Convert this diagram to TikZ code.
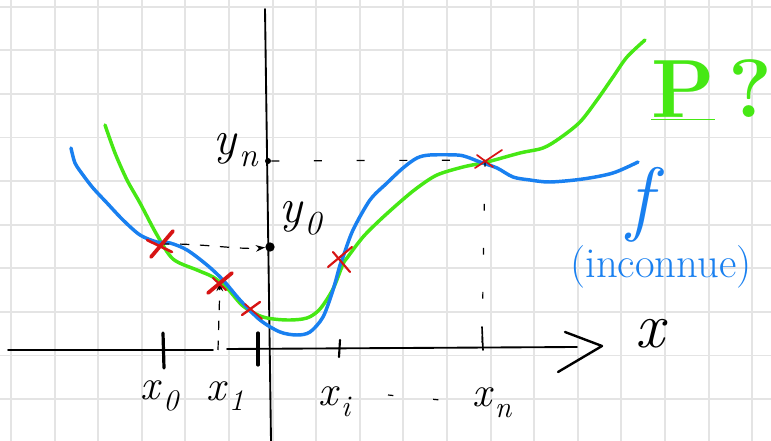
\documentclass[tikz,border=0pt]{standalone}
\usepackage{fontspec}
\usetikzlibrary{arrows.meta}
\definecolor{pgreen}{RGB}{70,232,20}
\definecolor{fblue}{RGB}{25,128,240}
\definecolor{xred}{RGB}{215,20,20}
\definecolor{gridc}{RGB}{228,228,228}
\newcommand{\lbl}[2]{\textit{#1}\kern0.03em\raisebox{-0.25em}{\scalebox{0.7}{\textit{#2}}}}
\begin{document}
\begin{tikzpicture}[x=0.75pt,y=-0.75pt,
  gridline/.style={draw=gridc,line width=1.4pt},
  axisline/.style={draw=black,line width=1.4pt,line cap=round},
  tickmark/.style={draw=black,line width=2.4pt,line cap=round},
  curveP/.style={draw=pgreen,line width=2.6pt,line cap=round,line join=round},
  curvef/.style={draw=fblue,line width=2.6pt,line cap=round,line join=round},
  crossbold/.style={draw=xred,line width=2.8pt,line cap=round},
  crossthin/.style={draw=xred,line width=1.3pt,line cap=round},
  guide/.style={draw=black,line width=0.9pt,dash pattern=on 7pt off 8pt},
  lab/.style={font=\fontsize{32}{34}\selectfont,inner sep=0pt},
  dotmark/.style={circle,fill=black,inner sep=0pt,minimum size=4.5pt},
]
\useasboundingbox (0,0) rectangle (771,441);
\fill[white] (0,0) rectangle (771,441);
\foreach \i in {0,...,17} \draw[gridline] ({11+43.6*\i},0) -- ({11+43.6*\i},441);
\foreach \j in {0,...,9} \draw[gridline] (0,{6.7+43.6*\j}) -- (771,{6.7+43.6*\j});

% axes
\draw[axisline] (8,350) -- (213,350);
\draw[axisline] (227,349) -- (577,347);
\draw[axisline,line width=1.8pt,line join=round] (565,332) -- (602,346) -- (558,372);
\draw[axisline] (265,9) -- (271,441);

% ticks
\draw[tickmark] (163,333) -- (164,368);
\draw[tickmark] (258,333) -- (258,365);
\draw[tickmark,line width=1.6pt] (340,340) -- (339,357);
\draw[tickmark,line width=1.2pt] (482,327) -- (483,350);

% interpolation points
\coordinate (X0) at (160,244);
\coordinate (X1) at (220,282);
\coordinate (X2) at (251,309);
\coordinate (Xi) at (341,262);
\coordinate (Xn) at (485,160);
\coordinate (T1) at (218,350);
\coordinate (Tn) at (482,347);
\node[dotmark] (Yn) at (268,161) {};
\node[dotmark,minimum size=7pt] (Y0) at (270,247) {};

% curves
\draw[curveP] plot[smooth,tension=0.5] coordinates {(105,125) (115,153) (127,180) (140,203) (157,235) (173,259) (197,270) (213,277) (227,288) (243,306) (263,317) (287,320) (307,318) (320,309) (333,289) (343,264) (347,258) (363,237) (380,220) (400,202) (417,188) (437,175) (463,167) (487,162) (520,153) (543,148) (560,138) (580,122) (597,100) (613,77) (627,57) (645,40)};
\draw[curvef] plot[smooth,tension=0.5] coordinates {(71,148) (75,163) (83,175) (93,188) (107,203) (123,220) (140,235) (157,242) (170,243) (187,250) (207,265) (223,280) (240,300) (260,320) (280,332) (297,335) (310,332) (323,317) (333,290) (340,265) (343,257) (353,230) (370,200) (387,183) (403,168) (417,158) (430,155) (457,155) (467,157) (480,162) (497,168) (513,177) (530,180) (550,182) (583,179) (613,173) (638,162)};

% guide lines
\draw[guide,-{Stealth[length=7pt,width=5pt]}] (X0) .. controls (200,243) and (240,250) .. (Y0);
\draw[guide,dash pattern=on 6pt off 26pt] (Yn) -- (Xn);
\draw[guide,dash pattern=on 5pt off 28pt] (Xn) -- (Tn);
\draw[guide,-{Stealth[length=7pt,width=5pt]}] (T1) -- (X1);

% crosses
\draw[crossbold] (151,257) -- (173,231);
\draw[crossbold,line width=2pt] (147,240) -- (172,252);
\draw[crossbold] (208,293) -- (232,273);
\draw[crossbold,line width=1.6pt] (213,278) -- (226,290);
\draw[crossthin,line width=1.8pt] (242,315) -- (260,302);
\draw[crossthin] (245,304) -- (262,319);
\draw[crossthin,line width=1.6pt] (328,267) -- (352,247);
\draw[crossthin,line width=1.6pt] (333,252) -- (350,272);
\draw[crossthin] (475,168) -- (502,150);
\draw[crossthin] (477,155) -- (493,167);

% labels
\node[lab] (lx0) at (160,396) {\lbl{x}{0}};
\node[lab] (lx1) at (225,396) {\lbl{x}{1}};
\node[lab] (lxi) at (335,402) {\lbl{x}{i}};
\node[lab] (lxn) at (492,403) {\lbl{x}{n}};
\node[lab,font=\fontsize{48}{48}\selectfont\itshape] (lx) at (650,334) {x};
\node[lab,font=\fontsize{36}{38}\selectfont] (lyn) at (236,150) {\lbl{y}{n}};
\node[lab,font=\fontsize{36}{38}\selectfont] (ly0) at (301,218) {\lbl{y}{0}};
\draw[guide,dash pattern=on 4pt off 30pt] (388,395) -- (lxn.west);

\node[inner sep=0pt,text=pgreen,font=\fontsize{62}{62}\selectfont\bfseries] (lP) at (712,90) {\underline{P}\,?};
\node[inner sep=0pt,text=fblue,font=\fontsize{62}{62}\selectfont\itshape] (lf) at (640,205) {f};
\node[inner sep=0pt,text=fblue,font=\fontsize{32}{34}\selectfont] (linc) at (661,267) {(inconnue)};
\end{tikzpicture}
\end{document}
